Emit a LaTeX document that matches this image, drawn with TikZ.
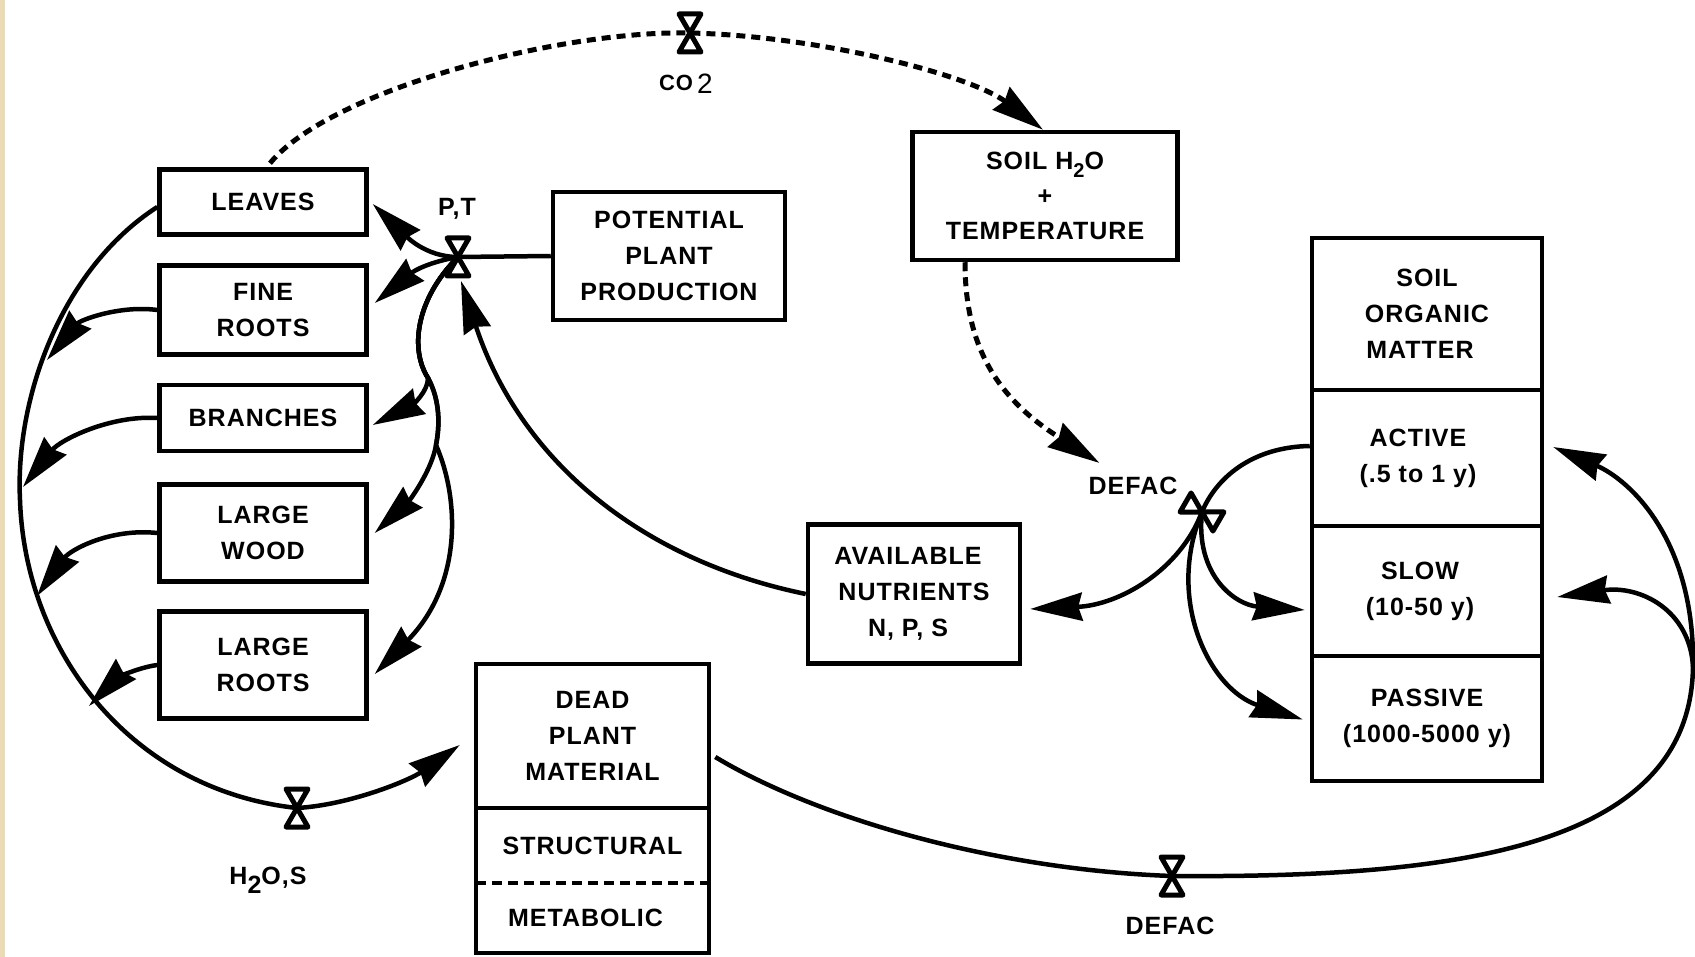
\documentclass[tikz,border=0pt]{standalone}
\usepackage{fontspec}
\setmainfont{Liberation Sans}[LetterSpace=4]
\usetikzlibrary{arrows.meta,calc}
\definecolor{tanstrip}{RGB}{236,218,178}
\newcommand\lbl{\bfseries\fontsize{25}{36}\selectfont}
\tikzset{
  box/.style={draw, line width=4.5pt, rectangle, inner sep=0pt, align=center, font=\lbl},
  plain/.style={inner sep=0pt, align=center, font=\lbl},
  link/.style={line width=4.5pt, line cap=butt},
  flow/.style={link, -{Stealth[length=52pt,width=28pt,inset=4pt]}},
  dotflow/.style={flow, line width=5pt, dash pattern=on 9pt off 6pt},
  valve/.pic={\draw[line width=5pt, fill=white, line join=round]
     (-11,-19) -- (11,-19) -- (0,0) -- cycle (-11,19) -- (11,19) -- (0,0) -- cycle;}
}
\begin{document}
\begin{tikzpicture}[x=1pt,y=-1pt]
\useasboundingbox (0,0) rectangle (1695,957);
\fill[white] (0,0) rectangle (1695,957);
\fill[tanstrip] (0,0) rectangle (5,957);

% plant compartments
\node[box, minimum width=207pt, minimum height=65pt]  (leaves)     at (263,202) {LEAVES};
\node[box, minimum width=207pt, minimum height=89pt]  (fineroots)  at (263,310) {FINE\\ROOTS};
\node[box, minimum width=207pt, minimum height=66pt]  (branches)   at (263,418) {BRANCHES};
\node[box, minimum width=207pt, minimum height=97pt]  (largewood)  at (263,533) {LARGE\\WOOD};
\node[box, minimum width=207pt, minimum height=107pt] (largeroots) at (263,665) {LARGE\\ROOTS};

\node[box, minimum width=232pt, minimum height=128pt] (ppp) at (669,256) {POTENTIAL\\PLANT\\PRODUCTION};
\node[box, minimum width=265pt, minimum height=128pt, font=\bfseries\fontsize{25}{35}\selectfont] (soil) at (1045,196)
  {SOIL H\raisebox{-8pt}{\fontsize{20}{20}\selectfont 2}O\\+\\TEMPERATURE};

% soil organic matter
\node[box, minimum width=230pt, minimum height=152pt] (som)     at (1427,314) {SOIL\\ORGANIC\\MATTER\hspace*{14pt}};
\node[box, minimum width=230pt, minimum height=136pt] (active)  at (1427,458) {ACTIVE\hspace*{18pt}\\(.5 to 1 y)\hspace*{18pt}};
\node[box, minimum width=230pt, minimum height=130pt] (slow)    at (1427,591) {SLOW\hspace*{14pt}\\(10-50 y)\hspace*{14pt}};
\node[box, minimum width=230pt, minimum height=125pt] (passive) at (1427,718.5) {PASSIVE\\(1000-5000 y)};

\node[box, minimum width=212pt, minimum height=139pt] (an) at (914,594) {AVAILABLE\hspace*{12pt}\\NUTRIENTS\hspace*{12pt}\\N, P, S\hspace*{12pt}};

% dead plant material
\node[box, minimum width=233pt, minimum height=144pt] (dpm) at (592.5,736) {DEAD\\PLANT\\MATERIAL};
\node[plain, minimum width=233pt, minimum height=75pt] (structural) at (592.5,845.5) {STRUCTURAL};
\node[plain, minimum width=233pt, minimum height=70pt] (metabolic)  at (592.5,918) {METABOLIC\hspace*{14pt}};
\draw[line width=4.5pt] (structural.north west) rectangle (metabolic.south east);
\draw[line width=4pt, dash pattern=on 10pt off 6pt] (structural.south west) -- (structural.south east);

% labels
\node[plain] (ptl) at (457,209) {P,T};
\node[plain] (co2l) at (686,84) {{\fontsize{22}{22}\selectfont CO}\,{\mdseries\fontsize{28}{28}\selectfont\raisebox{-3pt}{2}}};
\node[plain] (hsl) at (268,880) {H\raisebox{-9pt}{2}O,S};
\node[plain] (defacm) at (1133,486) {DEFAC};
\node[plain] (defacb) at (1170,926) {DEFAC};

% valve and junction coordinates
\coordinate (ptv) at (458,257);
\coordinate (co2v) at (690,33);
\coordinate (hsv) at (297,808);
\coordinate (dbv) at (1172,876);
\coordinate (dfv) at (1202,512);
\coordinate (rj) at (1693,667);
\coordinate (arcA) at (47,360);
\coordinate (arcB) at (23,487);
\coordinate (arcC) at (37,596);
\coordinate (arcD) at (89,706);

% CO2 dotted flow
\draw[dotflow] ($(leaves.north)+(7,-4)$) .. controls (330,90) and (560,30) .. (co2v)
   .. controls (820,36) and (970,75) .. ($(soil.north)+(-2,0)$);
% soil -> DEFAC dotted
\draw[dotflow] ($(soil.south)+(-80,0)$) .. controls (965,350) and (1000,400) .. ($(defacm.north west)+(11,-14)$);

% potential production -> P,T
\draw[link] (ppp.west) -- (ptv);
\draw[flow] (ptv) .. controls (425,257) and (405,235) .. ($(leaves.east)+(4,2)$);
\draw[flow] (ptv) .. controls (430,262) and (415,270) .. ($(fineroots.east)+(6,-7)$);
\draw[flow] (ptv) .. controls (415,300) and (410,350) .. (428,378)
   .. controls (428,392) and (412,405) .. ($(branches.east)+(4,7)$);
\draw[flow] (ptv) .. controls (415,300) and (410,350) .. (428,378)
   .. controls (440,400) and (440,425) .. (436,445)
   .. controls (432,470) and (410,500) .. ($(largewood.east)+(6,0)$);
\draw[flow] (ptv) .. controls (415,300) and (410,350) .. (428,378)
   .. controls (440,400) and (440,425) .. (436,445)
   .. controls (460,500) and (462,585) .. ($(largeroots.east)+(6,9)$);

% nutrients -> P,T
\draw[flow] (an.west) .. controls (640,560) and (520,460) .. ($(ptv)+(3,24)$);

% litterfall arc
\draw[flow] ($(leaves.west)+(0,5)$) .. controls (60,270) and (15,400) .. (20,500)
   .. controls (25,650) and (130,790) .. (hsv)
   .. controls (350,805) and (410,780) .. ($(dpm.west)+(-14,9)$);
\draw[flow] (fineroots.west) .. controls (120,305) and (80,320) .. (arcA);
\draw[flow] (branches.west) .. controls (110,415) and (60,440) .. (arcB);
\draw[flow] (largewood.west) .. controls (110,528) and (70,550) .. (arcC);
\draw[flow] (largeroots.west) .. controls (135,668) and (115,680) .. (arcD);

% decomposition via DEFAC
\draw[flow] ($(active.west)+(0,-12)$) .. controls (1250,447) and (1215,480) .. (dfv)
   .. controls (1180,570) and (1120,605) .. ($(an.east)+(8,15)$);
\draw[flow] (dfv) .. controls (1195,575) and (1235,605) .. ($(slow.west)+(-5,19)$);
\draw[flow] (dfv) .. controls (1165,600) and (1210,690) .. ($(passive.west)+(-7,1)$);

% dead plant material -> SOM
\draw[link] ($(dpm.east)+(4,21)$) .. controls (820,820) and (1000,870) .. (dbv)
   .. controls (1450,878) and (1690,850) .. (rj);
\draw[flow] (rj) .. controls (1695,540) and (1630,480) .. ($(active.east)+(9,-11)$);
\draw[flow] (rj) .. controls (1690,610) and (1640,585) .. ($(slow.east)+(13,6)$);

% valves
\pic at (ptv) {valve};
\pic at (co2v) {valve};
\pic at (hsv) {valve};
\pic at (dbv) {valve};
\pic[rotate=60] at (dfv) {valve};
\end{tikzpicture}
\end{document}
